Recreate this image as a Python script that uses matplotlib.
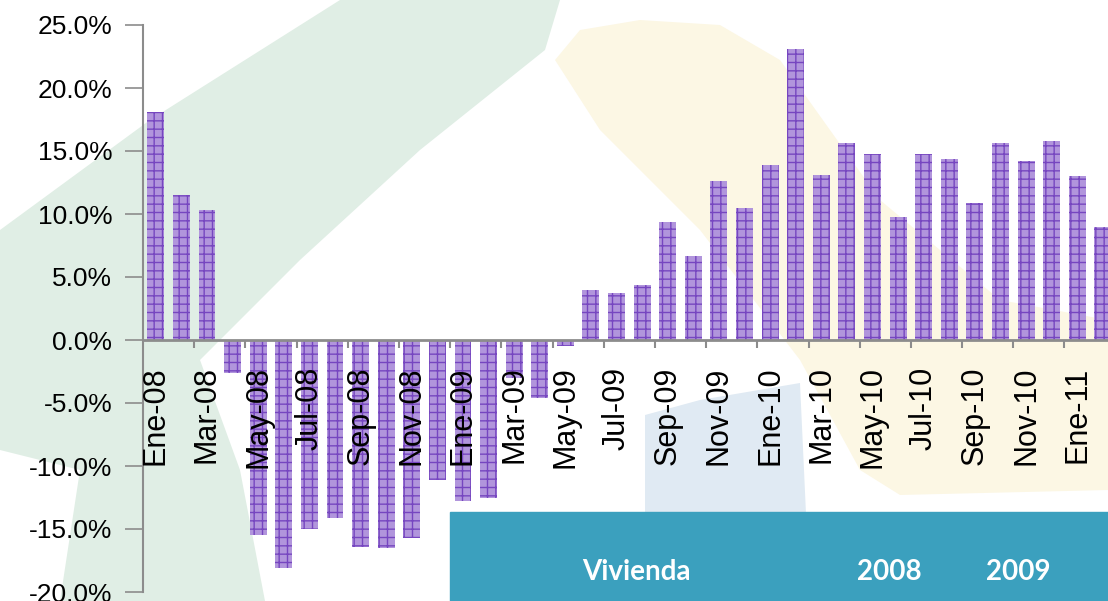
import numpy as np
import matplotlib.pyplot as plt
from matplotlib.patches import Polygon, Rectangle
from matplotlib.ticker import FixedLocator, FuncFormatter

plt.rcParams['font.family'] = ['Liberation Sans', 'DejaVu Sans']
plt.rcParams['hatch.linewidth'] = 1.0

# Monthly labels Ene-08 .. Feb-11
months = ['Ene', 'Feb', 'Mar', 'Abr', 'May', 'Jun', 'Jul', 'Ago', 'Sep', 'Oct', 'Nov', 'Dic']
labels = ['%s-%02d' % (months[i % 12], 8 + i // 12) for i in range(38)]

# Variacion interanual (%)
values = [18.1, 11.5, 10.3, -2.6, -15.5, -18.1, -15.0, -14.1, -16.4, -16.5, -15.7, -11.1,
          -12.8, -12.5, -3.0, -4.6, -0.45, 4.0, 3.7, 4.4, 9.4, 6.7, 12.6, 10.5,
          13.9, 23.1, 13.1, 15.6, 14.8, 9.8, 14.8, 14.4, 10.9, 15.6, 14.2, 15.8,
          13.0, 9.0]

box_texts = ['Vivienda', '2008', '2009']

W, H = 1108, 601
fig = plt.figure(figsize=(W / 100, H / 100), dpi=100)

# faint watermark shapes in the background (pixel coordinates)
bg = fig.add_axes([0, 0, 1, 1], zorder=-1)
bg.set_xlim(0, W)
bg.set_ylim(H, 0)
bg.axis('off')
green = [(340, 0), (560, 0), (545, 50), (420, 150), (300, 260), (200, 360), (240, 470),
         (265, 601), (60, 601), (80, 470), (0, 450), (0, 230), (150, 120)]
cream = [(555, 60), (580, 30), (640, 20), (720, 25), (780, 60), (880, 200), (1000, 300),
         (1108, 320), (1108, 490), (900, 495), (860, 470), (800, 360), (700, 230), (600, 130)]
blue = [(645, 415), (700, 400), (800, 383), (810, 601), (645, 601)]
bg.add_patch(Polygon(green, closed=True, color='#E0EEE5', lw=0))
bg.add_patch(Polygon(cream, closed=True, color='#FCF7E4', lw=0))
bg.add_patch(Polygon(blue, closed=True, color='#E0EAF3', lw=0))

ax = fig.add_axes([143 / W, 1 - 592 / H, 1 - 143 / W, (592 - 25) / H])
ax.patch.set_alpha(0)
ax.set_axisbelow(False)

x = np.arange(len(values))
ax.bar(x, values, width=0.66, color='#B195DC', edgecolor='#7646C0', hatch='++',
       linewidth=0, zorder=2)

ax.set_xlim(-0.5, 37.2)
ax.set_ylim(-20, 25)

for s in ['top', 'right']:
    ax.spines[s].set_visible(False)
ax.spines['bottom'].set_position(('data', 0))
ax.spines['bottom'].set_color('#8C8C8C')
ax.spines['bottom'].set_linewidth(2)
ax.spines['left'].set_color('#8C8C8C')
ax.spines['left'].set_linewidth(1.5)
ax.spines['bottom'].set_zorder(3)

ax.set_yticks(np.arange(-20, 26, 5))
ax.yaxis.set_major_formatter(FuncFormatter(lambda v, p: '%.1f%%' % v))
ax.tick_params(axis='y', length=13, width=1.2, color='#8C8C8C', pad=9, labelsize=19)

ax.set_xticks(x[::2])
ax.set_xticklabels(labels[::2], rotation=90, fontsize=22, va='top')
ax.xaxis.set_minor_locator(FixedLocator(np.arange(1.5, 38, 2)))
ax.tick_params(axis='x', which='major', length=0, pad=19)
ax.tick_params(axis='x', which='minor', length=6, width=1.5, color='#8C8C8C')

# teal title box at the bottom
fig.patches.append(Rectangle((450 / W, 0), (W - 450) / W, (601 - 512) / H,
                             transform=fig.transFigure, color='#3BA0BE', zorder=5))
for t, xp in zip(box_texts, [636, 889, 1018]):
    fig.text(xp / W, 1 - 572 / H, t, color='white', fontsize=20, fontweight='bold',
             family=['Lato', 'DejaVu Sans'], ha='center', va='center', zorder=6)

fig.savefig('out.png', dpi=100)
